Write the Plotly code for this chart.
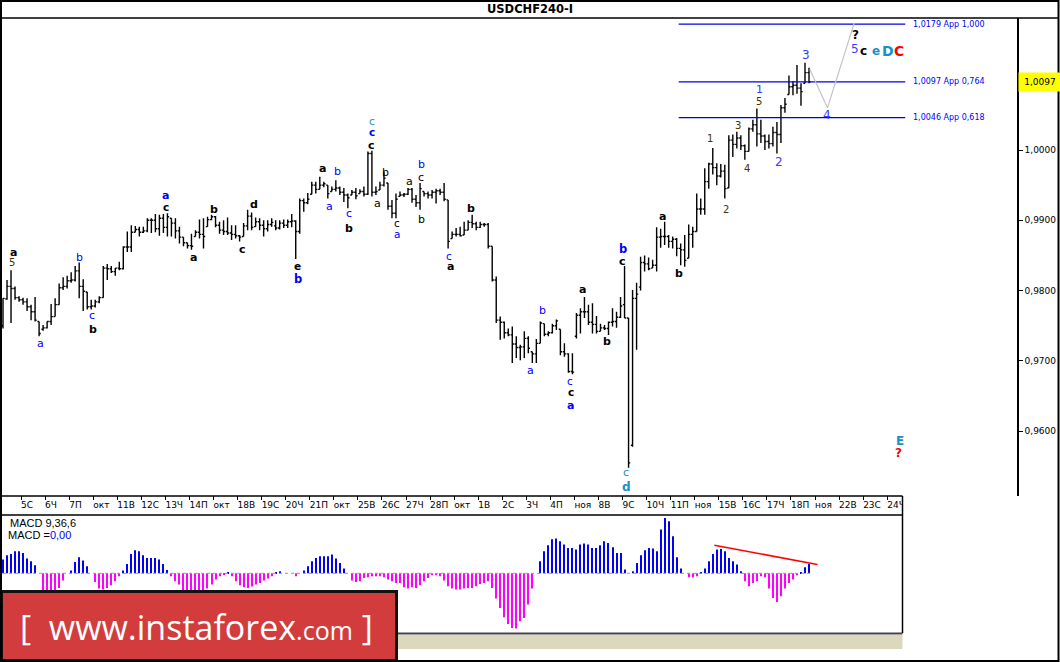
import plotly.graph_objects as go

# ---------------- data ----------------
opens = [0.9750, 0.9788, 0.9806, 0.9803, 0.9790, 0.9787, 0.9784, 0.9777, 0.9770,
         0.9756, 0.9745, 0.9747, 0.9756, 0.9763, 0.9780, 0.9804, 0.9806, 0.9814, 0.9815,
         0.9828, 0.9806, 0.9798, 0.9777, 0.9778, 0.9784, 0.9790, 0.9832, 0.9831, 0.9827,
         0.9832, 0.9831, 0.9862, 0.9862, 0.9883, 0.9887, 0.9883, 0.9885, 0.9900, 0.9900,
         0.9888, 0.9903, 0.9890, 0.9903, 0.9896, 0.9885, 0.9876, 0.9868, 0.9864, 0.9877,
         0.9883, 0.9880, 0.9891, 0.9901, 0.9905, 0.9893, 0.9886, 0.9884, 0.9882, 0.9880,
         0.9878, 0.9877, 0.9892, 0.9906, 0.9891, 0.9898, 0.9893, 0.9888, 0.9894,
         0.9892, 0.9889, 0.9896, 0.9893, 0.9898, 0.9899, 0.9884, 0.9928, 0.9925, 0.9937,
         0.9950, 0.9944, 0.9950, 0.9950, 0.9941, 0.9944, 0.9946, 0.9940, 0.9936, 0.9936,
         0.9940, 0.9938, 0.9941, 0.9937, 0.9995, 0.9940, 0.9943, 0.9950, 0.9953, 0.9920,
         0.9910, 0.9934, 0.9936, 0.9937, 0.9944, 0.9930, 0.9925, 0.9941, 0.9938, 0.9936,
         0.9940, 0.9942, 0.9940, 0.9929, 0.9874, 0.9880, 0.9880, 0.9879, 0.9886, 0.9897,
         0.9895, 0.9890, 0.9894, 0.9894, 0.9863, 0.9815, 0.9758, 0.9755, 0.9740, 0.9737,
         0.9724, 0.9719, 0.9720, 0.9732, 0.9713, 0.9710, 0.9725, 0.9753, 0.9738, 0.9740,
         0.9750, 0.9745, 0.9713, 0.9710, 0.9685, 0.9735, 0.9765, 0.9770, 0.9770, 0.9755,
         0.9752, 0.9742, 0.9747, 0.9746, 0.9755, 0.9756, 0.9762, 0.9780, 0.9761, 0.9580,
         0.9789, 0.9805, 0.9840, 0.9838, 0.9832, 0.9836, 0.9876, 0.9877, 0.9877, 0.9870,
         0.9873, 0.9860, 0.9858, 0.9846, 0.9880, 0.9884, 0.9916, 0.9916, 0.9955, 0.9980,
         0.9975, 0.9963, 0.9970, 0.9946, 1.0014, 1.0008, 1.0017, 1.0006, 0.9998,
         1.0030, 1.0036, 1.0023, 1.0020, 1.0012, 1.0009, 1.0025, 1.0022, 1.0060, 1.0079,
         1.0090, 1.0092, 1.0088, 1.0095, 1.0110]

highs = [0.9789, 0.9815, 0.9829, 0.9806, 0.9792, 0.9790, 0.9789, 0.9780, 0.9791,
         0.9756, 0.9751, 0.9756, 0.9781, 0.9789, 0.9810, 0.9819, 0.9821, 0.9826, 0.9835,
         0.9840, 0.9816, 0.9798, 0.9787, 0.9787, 0.9792, 0.9835, 0.9838, 0.9835, 0.9832,
         0.9841, 0.9863, 0.9884, 0.9893, 0.9892, 0.9891, 0.9891, 0.9903, 0.9903, 0.9909,
         0.9908, 0.9909, 0.9910, 0.9903, 0.9903, 0.9891, 0.9876, 0.9868, 0.9881, 0.9886,
         0.9901, 0.9903, 0.9905, 0.9908, 0.9906, 0.9898, 0.9900, 0.9904, 0.9893, 0.9893,
         0.9879, 0.9896, 0.9915, 0.9911, 0.9904, 0.9903, 0.9900, 0.9900, 0.9903,
         0.9900, 0.9900, 0.9901, 0.9901, 0.9909, 0.9900, 0.9931, 0.9931, 0.9939, 0.9955,
         0.9955, 0.9962, 0.9955, 0.9950, 0.9948, 0.9957, 0.9948, 0.9946, 0.9938, 0.9943,
         0.9946, 0.9944, 0.9948, 0.9998, 0.9999, 0.9948, 0.9955, 0.9969, 0.9953, 0.9929,
         0.9938, 0.9941, 0.9939, 0.9946, 0.9946, 0.9936, 0.9953, 0.9941, 0.9941, 0.9943,
         0.9945, 0.9945, 0.9953, 0.9929, 0.9884, 0.9889, 0.9891, 0.9898, 0.9900, 0.9908,
         0.9898, 0.9898, 0.9896, 0.9896, 0.9863, 0.9820, 0.9763, 0.9756, 0.9746, 0.9749,
         0.9735, 0.9723, 0.9742, 0.9735, 0.9713, 0.9731, 0.9756, 0.9753, 0.9742, 0.9753,
         0.9759, 0.9745, 0.9725, 0.9711, 0.9711, 0.9768, 0.9775, 0.9791, 0.9780, 0.9782,
         0.9764, 0.9753, 0.9751, 0.9756, 0.9775, 0.9770, 0.9791, 0.9835, 0.9761, 0.9801,
         0.9811, 0.9848, 0.9850, 0.9847, 0.9844, 0.9890, 0.9888, 0.9898, 0.9879, 0.9877,
         0.9875, 0.9867, 0.9879, 0.9894, 0.9891, 0.9938, 0.9931, 0.9974, 0.9982, 1.0003,
         0.9981, 0.9980, 0.9979, 1.0021, 1.0022, 1.0026, 1.0021, 1.0008, 1.0032,
         1.0043, 1.0059, 1.0043, 1.0022, 1.0022, 1.0033, 1.0040, 1.0064, 1.0074, 1.0106,
         1.0098, 1.0121, 1.0095, 1.0124, 1.0117]

lows = [0.9746, 0.9787, 0.9754, 0.9787, 0.9784, 0.9780, 0.9771, 0.9758, 0.9756,
        0.9735, 0.9743, 0.9746, 0.9751, 0.9763, 0.9780, 0.9801, 0.9803, 0.9811, 0.9813,
        0.9789, 0.9771, 0.9773, 0.9773, 0.9776, 0.9782, 0.9790, 0.9815, 0.9825, 0.9821,
        0.9829, 0.9830, 0.9855, 0.9855, 0.9883, 0.9877, 0.9882, 0.9883, 0.9882, 0.9883,
        0.9878, 0.9882, 0.9877, 0.9877, 0.9874, 0.9867, 0.9863, 0.9860, 0.9858, 0.9877,
        0.9874, 0.9860, 0.9891, 0.9900, 0.9890, 0.9881, 0.9879, 0.9879, 0.9872, 0.9874,
        0.9870, 0.9877, 0.9886, 0.9886, 0.9891, 0.9886, 0.9877, 0.9884, 0.9891,
        0.9886, 0.9887, 0.9889, 0.9889, 0.9890, 0.9845, 0.9881, 0.9912, 0.9923, 0.9937,
        0.9938, 0.9944, 0.9947, 0.9931, 0.9941, 0.9941, 0.9936, 0.9926, 0.9917, 0.9936,
        0.9930, 0.9938, 0.9934, 0.9936, 0.9934, 0.9936, 0.9943, 0.9948, 0.9915, 0.9903,
        0.9903, 0.9934, 0.9933, 0.9936, 0.9925, 0.9919, 0.9915, 0.9934, 0.9931, 0.9931,
        0.9924, 0.9936, 0.9927, 0.9860, 0.9874, 0.9877, 0.9877, 0.9879, 0.9886, 0.9889,
        0.9886, 0.9889, 0.9891, 0.9860, 0.9813, 0.9754, 0.9730, 0.9732, 0.9735, 0.9697,
        0.9704, 0.9701, 0.9704, 0.9711, 0.9697, 0.9697, 0.9725, 0.9735, 0.9735, 0.9739,
        0.9744, 0.9708, 0.9706, 0.9683, 0.9681, 0.9732, 0.9739, 0.9761, 0.9751, 0.9739,
        0.9739, 0.9742, 0.9744, 0.9737, 0.9749, 0.9747, 0.9761, 0.9761, 0.9548, 0.9578,
        0.9716, 0.9800, 0.9827, 0.9829, 0.9832, 0.9827, 0.9861, 0.9865, 0.9861, 0.9860,
        0.9849, 0.9836, 0.9834, 0.9846, 0.9861, 0.9884, 0.9908, 0.9908, 0.9945, 0.9965,
        0.9950, 0.9961, 0.9931, 0.9946, 0.9990, 1.0002, 1.0000, 0.9986, 0.9998,
        1.0026, 1.0005, 1.0010, 1.0000, 1.0002, 1.0005, 0.9995, 1.0010, 1.0053, 1.0079,
        1.0078, 1.0080, 1.0063, 1.0095, 1.0095]

closes = [0.9789, 0.9806, 0.9803, 0.9790, 0.9787, 0.9784, 0.9777, 0.9770, 0.9758,
          0.9739, 0.9747, 0.9756, 0.9763, 0.9780, 0.9804, 0.9806, 0.9814, 0.9815, 0.9828,
          0.9806, 0.9799, 0.9777, 0.9778, 0.9784, 0.9790, 0.9832, 0.9831, 0.9827, 0.9832,
          0.9831, 0.9862, 0.9862, 0.9883, 0.9887, 0.9883, 0.9885, 0.9900, 0.9900, 0.9888,
          0.9903, 0.9890, 0.9905, 0.9896, 0.9885, 0.9876, 0.9868, 0.9864, 0.9863, 0.9883,
          0.9880, 0.9877, 0.9901, 0.9905, 0.9893, 0.9886, 0.9884, 0.9882, 0.9880, 0.9878,
          0.9876, 0.9892, 0.9906, 0.9890, 0.9898, 0.9893, 0.9888, 0.9894, 0.9897,
          0.9889, 0.9896, 0.9893, 0.9898, 0.9899, 0.9884, 0.9928, 0.9925, 0.9930, 0.9950,
          0.9944, 0.9950, 0.9952, 0.9938, 0.9944, 0.9946, 0.9940, 0.9936, 0.9932, 0.9940,
          0.9935, 0.9941, 0.9937, 0.9995, 0.9940, 0.9941, 0.9950, 0.9960, 0.9920, 0.9910,
          0.9930, 0.9936, 0.9937, 0.9944, 0.9930, 0.9925, 0.9945, 0.9938, 0.9936, 0.9940,
          0.9942, 0.9940, 0.9930, 0.9870, 0.9880, 0.9880, 0.9878, 0.9886, 0.9897, 0.9895,
          0.9890, 0.9894, 0.9894, 0.9863, 0.9815, 0.9758, 0.9755, 0.9740, 0.9737, 0.9724,
          0.9719, 0.9720, 0.9732, 0.9718, 0.9710, 0.9725, 0.9754, 0.9738, 0.9740, 0.9750,
          0.9757, 0.9713, 0.9710, 0.9685, 0.9684, 0.9765, 0.9770, 0.9770, 0.9755, 0.9752,
          0.9742, 0.9747, 0.9746, 0.9755, 0.9756, 0.9762, 0.9778, 0.9761, 0.9555, 0.9789,
          0.9795, 0.9840, 0.9838, 0.9831, 0.9836, 0.9876, 0.9877, 0.9877, 0.9870, 0.9873,
          0.9860, 0.9858, 0.9843, 0.9880, 0.9884, 0.9916, 0.9916, 0.9955, 0.9980, 0.9975,
          0.9963, 0.9970, 0.9945, 1.0014, 1.0008, 1.0017, 1.0006, 0.9998, 1.0030,
          1.0036, 1.0023, 1.0020, 1.0012, 1.0009, 1.0025, 1.0022, 1.0060, 1.0065, 1.0090,
          1.0092, 1.0088, 1.0083, 1.0110, 1.0097]

bar_index = list(range(len(closes)))

# MACD(9,36,6) histogram, in chart points
macd_hist = [13.7, 18, 19.3, 22, 22, 20.3, 14.7, 12, 8, 0,
             -22, -25, -24, -20, -14.7, -7.3, 0, 2.7, 11.3, 16,
             12.7, 7, 0, -8.7, -15.3, -16.3, -14.7, -12, -8, -3,
             2.7, 9.3, 19.3, 23, 22, 18, 15.3, 15.3, 15.3, 13.7,
             9.3, 3.3, -3, -8, -11.3, -19, -21, -22, -22, -20,
             -18, -15.3, -11.3, -6.3, -3, -1, 0.5, -3, -8, -12,
             -14, -14.7, -13.3, -11.3, -9.7, -7.3, -5.3, -3, 1.3, 2,
             0, 0, 0, -3, 0, 2.7, 7, 12, 15.3,
             17, 17, 17, 18.7, 14.7, 10.3, 4.7, 0, -7.3, -8.7,
             -8, -4.7, -4, -3, -3, -3, -4, -6.3, -8, -9.7,
             -9.7, -14, -15.3, -14, -14.7, -12, -8, -4.7, -2, -2,
             -3, -7.3, -13, -15.3, -16.3, -16.3, -15.3, -14.7, -14.7, -13,
             -10.7, -9.7, -8, -14.7, -25.3, -34.7, -44, -50.7, -54.7, -55.3,
             -48, -44.7, -31.3, -15.3, 0,
             12, 22, 28, 34, 34.7, 32, 28.7, 25.3, 25.3, 23.7,
             28.7, 29.7, 28.7, 25.3, 25.3, 28, 32, 30.3, 26, 20.3,
             20.3, 3.7, 0, 2, 10.3, 18, 23, 25.3, 24.7, 22,
             43.7, 55.3, 52, 37, 16, 4.7, 0, -4, -4, -3,
             1.3, 4.7, 12, 19.3, 23.7, 24.3, 22, 15.3, 12, 8.7,
             2, -8, -13, -9.7, -8, -3, -4, -15.3, -24.7, -28.7,
             -23, -15.3, -9.7, -6.3, -2, 1.3, 6, 9.3]

# date axis (ticks sit between bars, 6 bars a day)
date_tick_pos = [4.5, 10.5, 16.5, 22.5, 28.5, 34.5, 40.5, 46.5, 52.5, 58.5, 64.5,
                 70.5, 76.5, 82.5, 88.5, 94.5, 100.5, 106.5, 112.5, 118.5, 124.5, 130.5,
                 136.5, 142.5, 148.5, 154.5, 160.5, 166.5, 172.5, 178.5, 184.5, 190.5,
                 196.5, 202.5, 208.5, 214.5, 220.5]
date_labels = ["5С", "6Ч", "7П", "окт", "11В", "12С", "13Ч", "14П", "окт", "18В", "19С",
               "20Ч", "21П", "окт", "25В", "26С", "27Ч", "28П", "окт", "1В", "2С", "3Ч",
               "4П", "ноя", "8В", "9С", "10Ч", "11П", "ноя", "15В", "16С", "17Ч",
               "18П", "ноя", "22В", "23С", "24Ч"]

price_ticks = [0.96, 0.97, 0.98, 0.99, 1.00]
price_tick_text = ["0,9600", "0,9700", "0,9800", "0,9900", "1,0000"]
last_price = 1.0097
last_price_text = "1,0097"

fib_levels = [1.0179, 1.0097, 1.0046]
fib_text = ["1,0179 App 1,000", "1,0097 App 0,764", "1,0046 App 0,618"]
fib_span = [168.5, 225.0]
fib_label_x = 226.4

proj_x = [201.2, 205.6, 212.3]
proj_y = [1.0115, 1.0060, 1.0181]

macd_trend_x = [177.4, 203.1]
macd_trend_y = [28.1, 8.8]

# wave labels
K, BL, TL, RD, NM, VB = "#000000", "#0000ff", "#1a8fc9", "#ff0000", "#4a3000", "#3a3aff"
wave_text = ["a", "5", "b", "a", "c", "b", "a", "c", "a", "b", "c", "d", "e", "b", "a", "b", "a", "c", "b",
             "c", "c", "c", "b", "a", "c", "a", "a", "b", "c", "b", "b", "c", "a",
             "a", "b", "c", "c", "a", "a", "b", "b", "c", "c", "d", "a", "b",
             "1", "2", "3", "4", "5", "1", "2", "3", "4", "?", "5", "c", "e", "D", "C", "E", "?"]
wave_x = [2.5, 2.3, 19.2, 9.3, 22.3, 22.4, 40.6, 40.6, 47.6, 52.5, 59.6, 62.6, 73.5, 73.5, 79.6, 83.4,
          81.4, 86.3, 86.3,
          92.0, 92.0, 92.0, 95.4, 93.4, 98.3, 98.3, 101.3, 104.3, 104.3, 104.3, 116.6, 111.3, 111.5,
          131.5, 134.5, 141.4, 141.6, 141.6, 144.6, 150.5, 154.5, 154.5, 155.4, 155.4, 164.5, 168.5,
          176.3, 180.3, 183.4, 185.5, 188.6, 188.6, 193.5, 200.2, 205.5, 212.5, 212.5, 214.7, 217.6,
          220.6, 223.5, 223.7, 223.4]
wave_y = [0.9854, 0.9840, 0.9847, 0.9725, 0.9764, 0.9745, 0.9935, 0.9919, 0.9847, 0.9916, 0.9859, 0.9923,
          0.9835, 0.9816, 0.9973, 0.9970, 0.9920, 0.9910, 0.9889,
          1.0041, 1.0026, 1.0007, 0.9968, 0.9924, 0.9896, 0.9880, 0.9955, 0.9979, 0.9961, 0.9901, 0.9917,
          0.9849, 0.9834,
          0.9686, 0.9772, 0.9672, 0.9656, 0.9636, 0.9802, 0.9727, 0.9859, 0.9842, 0.9541, 0.9521, 0.9906,
          0.9824,
          1.0016, 0.9915, 1.0035, 0.9973, 1.0069, 1.0086, 0.9983, 1.0135, 1.0050, 1.0163, 1.0144, 1.0141,
          1.0141, 1.0141, 1.0141, 0.9586, 0.9569]
wave_color = [K, NM, BL, BL, BL, K, BL, K, K, K, K, K, K, BL, K, BL, BL, BL, K,
              TL, BL, K, K, K, K, BL, K, BL, K, K, K, BL, K,
              BL, BL, BL, K, BL, K, K, BL, K, TL, TL, K, K,
              NM, NM, NM, NM, NM, VB, VB, VB, VB, K, VB, K, TL, TL, RD, TL, RD]
wave_bold = [1, 0, 0, 0, 0, 1, 1, 1, 1, 1, 1, 1, 1, 1, 1, 0, 0, 0, 1,
             0, 1, 1, 0, 0, 0, 0, 0, 0, 0, 0, 1, 0, 1,
             0, 0, 0, 1, 1, 1, 1, 1, 1, 0, 1, 1, 1,
             0, 0, 0, 0, 0, 0, 0, 0, 0, 1, 0, 1, 1, 1, 1, 1, 1]
wave_size = [11, 10, 11, 11, 11, 11, 11, 10.5, 11, 11, 11, 11, 10.5, 11.5, 11, 11, 11, 11, 11,
             10.5, 10.5, 11, 11, 11, 10.5, 10.5, 11, 11, 11, 11, 11, 10.5, 11,
             11, 11, 10.5, 10.5, 11, 11, 11, 11.5, 11, 11, 12, 11, 11,
             10, 10, 10, 10, 10, 11, 12, 12, 12, 12, 12, 12, 12, 14, 14, 12, 12]

# ---------------- frame geometry (pixels of the 1060x662 canvas) ----------------
W, H = 1060, 662
BAR_PX = 4.01           # pixels per bar
BAR0_PX = 3.0           # pixel of bar 0
MAIN_RIGHT, MACD_RIGHT = 1017, 902.5
main_top, main_bot = 18, 496
band_bot = 515
macd_bot = 633
macd_zero = 573.3


def PX(x):
    return x / W


def PY(y):
    return 1 - y / H


def xr(right_px):
    return [(0 - BAR0_PX) / BAR_PX, (right_px - BAR0_PX) / BAR_PX]


# 1.0000 sits at y=150, 70.3 px per 0.0100
y_top = 1.0 + (150 - main_top) / 7030
y_bot = 1.0 - (main_bot - 150) / 7030

fig = go.Figure()

fig.add_trace(go.Ohlc(
    x=bar_index, open=opens, high=highs, low=lows, close=closes,
    increasing=dict(line=dict(color="black", width=1.4)),
    decreasing=dict(line=dict(color="black", width=1.4)),
    tickwidth=0.42, hoverinfo="skip", showlegend=False, xaxis="x", yaxis="y"))

for lev in fib_levels:
    fig.add_trace(go.Scatter(x=fib_span, y=[lev, lev], mode="lines",
                             line=dict(color="#0000e6", width=1.2), hoverinfo="skip",
                             showlegend=False, xaxis="x", yaxis="y"))

fig.add_trace(go.Scatter(x=proj_x, y=proj_y, mode="lines",
                         line=dict(color="#c4c4c4", width=1.2), hoverinfo="skip",
                         showlegend=False, xaxis="x", yaxis="y"))

# MACD histogram
macd_colors = ["#0000ff" if v >= 0 else "#ff00ff" for v in macd_hist]
fig.add_trace(go.Scatter(x=[bar_index[0], bar_index[-1]], y=[0, 0], mode="lines",
                         line=dict(color="#9a9a9a", width=1, dash="dot"), hoverinfo="skip",
                         showlegend=False, xaxis="x2", yaxis="y2"))
fig.add_trace(go.Bar(x=bar_index, y=macd_hist, marker=dict(color=macd_colors, line=dict(width=0)),
                     width=0.26, hoverinfo="skip", showlegend=False, xaxis="x2", yaxis="y2"))
fig.add_trace(go.Scatter(x=macd_trend_x, y=macd_trend_y, mode="lines",
                         line=dict(color="#ff0000", width=1.5), hoverinfo="skip",
                         showlegend=False, xaxis="x2", yaxis="y2"))

# date labels (clipped at the panel edge)
fig.add_trace(go.Scatter(x=date_tick_pos, y=[0.5] * len(date_tick_pos), mode="text",
                         text=date_labels, textposition="middle right",
                         textfont=dict(family="DejaVu Sans", size=9, color="black"),
                         cliponaxis=True, hoverinfo="skip", showlegend=False,
                         xaxis="x3", yaxis="y3"))

annotations = []
for t, x, y, c, b, s in zip(wave_text, wave_x, wave_y, wave_color, wave_bold, wave_size):
    annotations.append(dict(x=x, y=y, xref="x", yref="y", text=f"<b>{t}</b>" if b else t,
                            showarrow=False, xanchor="center", yanchor="middle",
                            font=dict(family="DejaVu Sans", size=s, color=c)))

for lev, txt in zip(fib_levels, fib_text):
    annotations.append(dict(x=fib_label_x, y=lev, xref="x", yref="y", text=txt, showarrow=False,
                            xanchor="left", yanchor="middle",
                            font=dict(family="DejaVu Sans", size=8, color="#0000ff")))

annotations.append(dict(x=PX(MAIN_RIGHT + 0.5), y=last_price, xref="paper", yref="y",
                        text=last_price_text, showarrow=False, xanchor="left", yanchor="middle",
                        width=40, height=16, bgcolor="#ffff00",
                        font=dict(family="DejaVu Sans", size=9, color="black")))

annotations.append(dict(x=0.5, y=PY(9), xref="paper", yref="paper", text="<b>USDCHF240-I</b>",
                        showarrow=False, xanchor="center", yanchor="middle",
                        font=dict(family="DejaVu Sans", size=11.5, color="black")))

annotations.append(dict(x=PX(8), y=PY(523), xref="paper", yref="paper", text="MACD 9,36,6",
                        showarrow=False, xanchor="left", yanchor="middle",
                        font=dict(family="Liberation Sans", size=11, color="black")))
annotations.append(dict(x=PX(6), y=PY(535), xref="paper", yref="paper",
                        text="MACD =<span style='color:#0000ff'>0,00</span>",
                        showarrow=False, xanchor="left", yanchor="middle",
                        font=dict(family="Liberation Sans", size=11, color="black")))

annotations.append(dict(x=PX(197), y=PY(627), xref="paper", yref="paper",
                        text="[\u00a0\u00a0www.instaforex<span style='font-size:25px'>.com</span>\u00a0]",
                        showarrow=False, xanchor="center", yanchor="middle",
                        font=dict(family="Open Sans", size=34, color="white")))

line_k = dict(color="black", width=1.5)
shapes = [
    # logo box
    dict(type="rect", xref="paper", yref="paper", x0=PX(0), x1=PX(398), y0=PY(662), y1=PY(590),
         fillcolor="#111111", line=dict(width=0), layer="above"),
    dict(type="rect", xref="paper", yref="paper", x0=PX(3), x1=PX(395), y0=PY(659), y1=PY(593),
         fillcolor="#d23c3c", line=dict(width=0), layer="above"),
    # hatched strip under the MACD panel
    dict(type="rect", xref="paper", yref="paper", x0=PX(398), x1=PX(MACD_RIGHT), y0=PY(649), y1=PY(635),
         fillcolor="#dcd8bd", line=dict(width=0), layer="below"),
    dict(type="line", xref="paper", yref="paper", x0=PX(398), x1=PX(MACD_RIGHT), y0=PY(633.5), y1=PY(633.5),
         line=dict(color="#444444", width=2)),
    # frame lines
    dict(type="line", xref="paper", yref="paper", x0=0, x1=PX(1058), y0=PY(18), y1=PY(18), line=line_k),
    dict(type="line", xref="paper", yref="paper", x0=0, x1=PX(MACD_RIGHT), y0=PY(main_bot), y1=PY(main_bot),
         line=line_k),
    dict(type="line", xref="paper", yref="paper", x0=0, x1=PX(MACD_RIGHT), y0=PY(band_bot), y1=PY(band_bot),
         line=line_k),
    dict(type="line", xref="paper", yref="paper", x0=PX(MACD_RIGHT), x1=PX(MACD_RIGHT), y0=PY(main_bot),
         y1=PY(macd_bot), line=line_k),
    # outer border
    dict(type="rect", xref="paper", yref="paper", x0=PX(1), x1=PX(1058.5), y0=PY(661), y1=PY(1),
         line=dict(color="black", width=2), fillcolor="rgba(0,0,0,0)"),
]

fig.update_layout(
    width=W, height=H, margin=dict(l=0, r=0, t=0, b=0),
    paper_bgcolor="white", plot_bgcolor="white", showlegend=False,
    font=dict(family="DejaVu Sans", size=10, color="black"),
    xaxis=dict(domain=[0, PX(MAIN_RIGHT)], range=xr(MAIN_RIGHT), visible=False,
               rangeslider=dict(visible=False), fixedrange=True),
    yaxis=dict(domain=[PY(main_bot), PY(main_top)], range=[y_bot, y_top], side="right",
               tickvals=price_ticks, ticktext=price_tick_text, ticks="outside", ticklen=4,
               tickcolor="black", showline=True, linecolor="black", linewidth=1.5,
               showgrid=False, zeroline=False, tickfont=dict(family="DejaVu Sans", size=9, color="black")),
    xaxis2=dict(domain=[0, PX(MACD_RIGHT)], range=xr(MACD_RIGHT), visible=False, anchor="y2"),
    yaxis2=dict(domain=[PY(macd_bot), PY(band_bot)],
                range=[-(macd_bot - macd_zero), macd_zero - band_bot], visible=False, anchor="x2"),
    xaxis3=dict(domain=[0, PX(MACD_RIGHT)], range=xr(MACD_RIGHT), anchor="y3", side="top",
                ticks="inside", ticklen=4, tickcolor="black", tickvals=date_tick_pos,
                showticklabels=False, showgrid=False, zeroline=False, showline=False),
    yaxis3=dict(domain=[PY(band_bot), PY(main_bot)], range=[0, 1], visible=False, anchor="x3"),
    annotations=annotations, shapes=shapes,
)

fig.write_html("out.html", config={"displayModeBar": False},
               post_script="document.body.style.margin='0px';document.body.style.padding='0px';")
